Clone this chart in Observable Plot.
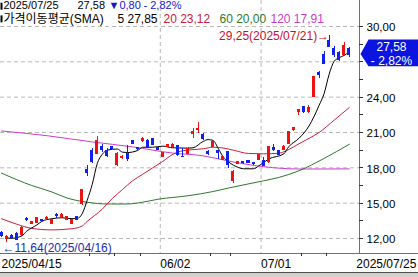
<!DOCTYPE html>
<html><head><meta charset="utf-8">
<script src="https://cdn.jsdelivr.net/npm/d3@7"></script>
<script src="https://cdn.jsdelivr.net/npm/@observablehq/plot@0.6"></script>
<style>
html,body{margin:0;padding:0;background:#fff;}
#chart{width:418px;height:272px;overflow:hidden;}
#foot{height:4px;border-top:1px solid #505050;background:#d4d0c8;}
</style></head><body><div id="chart"></div><div id="foot"></div>
<script>
// ---- data ----
const opens  = [12.43,12.00,12.17,12.40,12.26,13.68,13.26,13.30,13.55,13.67,13.25,14.02,13.82,13.60,13.25,13.81,14.89,17.85,19.40,19.19,19.76,19.47,19.76,18.20,18.82,19.19,20.24,19.68,20.24,20.32,20.41,19.67,18.90,19.76,19.76,19.84,18.92,19.19,20.89,21.17,20.81,19.38,19.76,19.39,18.68,19.33,16.87,18.34,18.48,18.54,18.40,18.68,18.55,18.48,19.70,19.41,19.53,20.04,21.17,22.72,23.15,22.72,24.00,26.04,27.54,28.81,28.10,27.73,27.55,28.10];
const highs  = [12.60,12.22,12.30,12.50,12.98,13.80,13.40,13.80,13.60,13.85,13.62,14.15,14.10,13.85,13.65,13.88,16.20,18.20,19.62,20.70,19.96,19.60,19.85,19.32,19.05,19.90,20.30,19.75,20.55,20.40,20.50,19.72,19.30,19.98,20.05,19.90,19.60,19.70,21.32,21.82,20.90,19.47,20.25,19.47,19.00,19.40,17.78,18.55,18.55,18.65,18.48,19.12,18.85,19.85,19.96,19.50,19.90,21.10,21.45,22.93,23.25,23.29,25.75,26.21,27.90,29.25,28.30,27.85,28.67,28.25];
const lows   = [12.09,11.64,11.95,11.85,12.20,13.45,13.22,13.28,13.40,13.65,13.17,13.72,13.78,13.55,13.22,13.55,14.80,17.30,18.35,19.10,19.33,18.90,19.55,18.15,18.75,18.57,19.95,19.50,20.15,19.65,19.92,19.45,18.85,19.70,19.70,18.99,18.86,19.12,20.47,20.89,20.35,19.05,19.70,18.71,18.60,17.97,16.67,18.28,18.30,18.38,18.22,18.62,18.10,18.40,19.41,19.05,19.45,19.95,21.10,22.44,22.65,22.65,23.95,25.56,26.80,28.20,27.40,27.05,27.45,27.40];
const closes = [12.17,12.13,12.04,11.90,12.91,13.53,13.38,13.72,13.50,13.78,13.58,13.88,14.00,13.80,13.58,13.59,16.08,17.60,18.50,20.32,19.48,19.00,19.63,19.19,18.96,18.77,20.05,19.57,20.46,19.71,19.98,19.54,19.24,19.90,19.95,19.11,18.88,19.62,21.03,21.32,20.41,19.20,20.18,19.28,18.90,18.20,17.63,18.48,18.38,18.43,18.29,19.05,18.15,19.76,19.54,19.13,19.81,21.03,21.37,22.87,22.73,23.10,25.70,25.85,26.83,28.25,27.55,27.12,28.38,27.58];

const ma5Days    = [1,2,4,5,7,8,10,12,14,15,16,17,18,19,20,21,23,24,25,27,28,30,32,34,37,38,40,41,42,43,44,45,47,48,50,51,53,56,57,59,61,62,63,64,65,66,67,68,69];
const ma5Values  = [12.05,12.02,12.22,12.62,13.15,13.45,13.68,13.76,13.68,13.70,14.10,15.25,16.60,18.37,19.15,19.50,19.60,19.33,19.30,19.47,19.75,19.75,19.84,19.70,19.67,19.70,20.24,20.40,20.32,19.65,18.92,18.52,18.03,17.92,17.92,18.15,18.75,19.19,19.80,20.50,21.55,22.35,23.30,24.30,25.95,27.05,27.35,27.55,27.85];
const ma20Days   = [0,3,6,10,14,16,17,20,22,24,26,28,30,32,34,36,40,42,44,46,49,52,55,57,59,61,63,66,69];
const ma20Values = [13.68,13.22,12.86,12.73,12.83,13.06,13.45,14.50,15.40,16.16,16.90,17.45,18.00,18.55,19.15,19.45,19.62,19.75,19.68,19.50,19.22,19.19,19.24,19.56,20.04,20.50,21.00,22.05,23.12];
const ma60Days   = [0,6,10,13,17,21,25,28,31,37,42,45,52,55,59,64,69];
const ma60Values = [17.55,16.50,15.95,15.44,15.08,14.93,14.93,15.08,15.33,15.63,15.99,16.28,16.90,17.18,17.75,18.80,20.00];
const ma120Days  = [0,9,18,26,34,40,45,52,59,69];
const ma120Values= [21.13,20.73,20.20,19.78,19.25,19.02,18.58,18.10,17.90,17.91];

const yGridTicks  = [12,15,18,21,24,27,30];
const yLabelTicks = [12,15,18,21,24,30];
const yMinorTicks = [12,13.5,15,16.5,18,19.5,21,22.5,24,25.5,27,28.5,30];
const xLabelDays  = [0,31.5,51.5];
const xLabels     = ["2025/04/15","06/02","07/01"];
const xGridDays   = [31.5,51.5];
const xWeekTicks  = [17.5,22.5,27.5,41.5,45.5,59.5,64.5];
const lastDate    = "2025/07/25";
const highDate    = "2025/07/21";
const lowDate     = "2025/04/16";

// ---- derived ----
const fmt = v => Math.abs(v).toFixed(2).replace(".", ",");
const candles = opens.map((o, i) => ({i, o, h: highs[i], l: lows[i], c: closes[i]}));
const up = candles.filter(d => d.c >= d.o);
const down = candles.filter(d => d.c < d.o);
const toSeries = (days, vals) => days.map((i, k) => ({i, v: vals[k]}));
const ma5 = toSeries(ma5Days, ma5Values), ma20 = toSeries(ma20Days, ma20Values),
      ma60 = toSeries(ma60Days, ma60Values), ma120 = toSeries(ma120Days, ma120Values);
const last = candles[candles.length - 1];
const prev = candles[candles.length - 2];
const change = last.c - prev.c;
const pct = change / prev.c * 100;
const hiC = candles.reduce((a, b) => b.h > a.h ? b : a);
const loC = candles.reduce((a, b) => b.l < a.l ? b : a);
const labelMap = new Map(xLabelDays.map((d, k) => [d, xLabels[k]]));

const W = 418, H = 272, mL = 0, mR = 59, mT = 0, mB = 19;
const xOpt = {type: "linear", domain: [0, 69], range: [1, 348.8], label: null};
const yOpt = {type: "linear", domain: [12, 30], range: [238, 26], label: null};
const xs = Plot.scale({x: xOpt}), ys = Plot.scale({y: yOpt});
const frameRight = xs.invert(W - mR), frameBottom = ys.invert(H - mB);
const xTickEnd = xs.invert(W - mR + 4), yTickEnd = ys.invert(H - mB + 3);

const FONT = "'Liberation Sans', 'DejaVu Sans', 'Noto Sans CJK KR', sans-serif";
const RED = "#ee1111", BLUE = "#1020ee";
const C20 = "#c8203c", C60 = "#2a7a2a", C120 = "#cc3ccc";
const TXTBLUE = "#1818c8";
const LINE1 = 5.2, LINE2 = 18.4;

const priceTag = {draw(ctx) {
  ctx.moveTo(1, -1); ctx.lineTo(9, -15.5); ctx.lineTo(59, -15.5);
  ctx.lineTo(59, 11.2); ctx.lineTo(9, 11.2); ctx.closePath();
}};
const legendBar = {draw(ctx) { ctx.rect(0, -3.5, 2, 7); }};

const legend = (text, dx, dy, fill, fontSize) =>
  Plot.text([text], {frameAnchor: "top-left", dx, dy, text: d => d, fill, textAnchor: "start", lineAnchor: "middle", fontSize, fontFamily: FONT});
const marker = dy => Plot.dot([0], {frameAnchor: "top-left", dy, symbol: legendBar, fill: "#000", stroke: "none", r: 3});

const chart = Plot.plot({
  width: W, height: H, marginLeft: mL, marginRight: mR, marginTop: mT, marginBottom: mB,
  x: xOpt, y: yOpt,
  style: {fontFamily: FONT, fontSize: "12px", background: "#fff", color: "#000"},
  marks: [
    Plot.gridY(yGridTicks, {stroke: "#b8b8b8", strokeOpacity: 1, strokeDasharray: "4,3"}),
    Plot.gridX(xGridDays, {stroke: "#b8b8b8", strokeOpacity: 1, strokeDasharray: "4,3"}),
    Plot.ruleX([frameRight], {stroke: "#707070", shapeRendering: "crispEdges"}),
    Plot.ruleY([frameBottom], {x1: xs.invert(0), x2: xs.invert(W), stroke: "#707070", shapeRendering: "crispEdges"}),
    // small ticks
    Plot.ruleX(xWeekTicks, {y1: frameBottom, y2: yTickEnd, stroke: "#333", shapeRendering: "crispEdges"}),
    Plot.ruleY(yMinorTicks, {x1: frameRight, x2: xTickEnd, stroke: "#333", shapeRendering: "crispEdges"}),
    // axis labels
    Plot.axisX(xLabelDays, {tickSize: 0, tickPadding: 6, tickFormat: d => labelMap.get(d), textAnchor: "start", fontSize: 12, fontFamily: FONT, label: null}),
    Plot.text([{i: last.i, t: lastDate}], {x: "i", text: "t", frameAnchor: "bottom", textAnchor: "start", lineAnchor: "top", dx: 7, dy: 6, fontSize: 12, fontFamily: FONT}),
    Plot.axisY(yLabelTicks, {anchor: "right", tickSize: 0, tickPadding: 7, tickFormat: fmt, fontSize: 11.5, fontFamily: FONT, dy: 1, label: null}),
    // moving averages
    Plot.line(ma120, {x: "i", y: "v", stroke: C120, strokeWidth: 1, curve: "monotone-x"}),
    Plot.line(ma60, {x: "i", y: "v", stroke: C60, strokeWidth: 1, curve: "monotone-x"}),
    Plot.line(ma20, {x: "i", y: "v", stroke: C20, strokeWidth: 1, curve: "monotone-x"}),
    Plot.line(ma5, {x: "i", y: "v", stroke: "#000", strokeWidth: 1, curve: "monotone-x"}),
    // candles
    Plot.ruleX(up, {x: "i", y1: "l", y2: "h", stroke: RED, shapeRendering: "crispEdges"}),
    Plot.ruleX(down, {x: "i", y1: "l", y2: "h", stroke: BLUE, shapeRendering: "crispEdges"}),
    Plot.rect(up, {x1: d => d.i - 0.3, x2: d => d.i + 0.3, y1: "o", y2: "c", fill: RED, insetTop: -0.5, insetBottom: -0.5, shapeRendering: "crispEdges"}),
    Plot.rect(down, {x1: d => d.i - 0.3, x2: d => d.i + 0.3, y1: "o", y2: "c", fill: BLUE, insetTop: -0.5, insetBottom: -0.5, shapeRendering: "crispEdges"}),
    // extremes
    Plot.text([hiC], {x: "i", y: "h", text: d => `${fmt(d.h)}(${highDate})→`, textAnchor: "end", lineAnchor: "middle", fill: "#c8102e", dy: 0.5, fontSize: 12, fontFamily: FONT}),
    Plot.text([loC], {x: "i", y: "l", text: d => `←${fmt(d.l)}(${lowDate})`, textAnchor: "start", lineAnchor: "middle", fill: "#1a2eb0", dx: -4, dy: 5.5, fontSize: 12, fontFamily: FONT}),
    // price tag
    Plot.dot([last], {y: "c", frameAnchor: "right", symbol: priceTag, fill: "#0c14e0", stroke: "none", r: 5}),
    Plot.text([last], {y: "c", frameAnchor: "right", dx: 32, dy: -1.7, text: d => `${fmt(d.c)}\n${change < 0 ? "-" : "+"} ${fmt(pct)}%`, fill: "#fff", textAnchor: "middle", lineAnchor: "middle", lineHeight: 1.2, fontSize: 12, fontFamily: FONT}),
    // legend markers
    marker(LINE1 + 0.5),
    marker(LINE2),
    // legend
    legend(lastDate, 3, LINE1, "#000", 11),
    legend(fmt(last.c), 77, LINE1, "#000", 11),
    legend(`${change < 0 ? "▼" : "▲"}${fmt(change)}`, 108, LINE1, TXTBLUE, 11),
    legend(`${change < 0 ? "-" : "+"} ${fmt(pct)}%`, 143, LINE1, TXTBLUE, 11),
    legend("가격이동평균(SMA)", 3, LINE2, "#000", 12),
    legend(`5 ${fmt(ma5Values[ma5Values.length - 1])}`, 117, LINE2, "#000", 12),
    legend(`20 ${fmt(ma20Values[ma20Values.length - 1])}`, 163, LINE2, C20, 12),
    legend(`60 ${fmt(ma60Values[ma60Values.length - 1])}`, 219, LINE2, C60, 12),
    legend(`120 ${fmt(ma120Values[ma120Values.length - 1])}`, 270, LINE2, C120, 12)
  ]
});
document.getElementById("chart").appendChild(chart);
</script></body></html>
